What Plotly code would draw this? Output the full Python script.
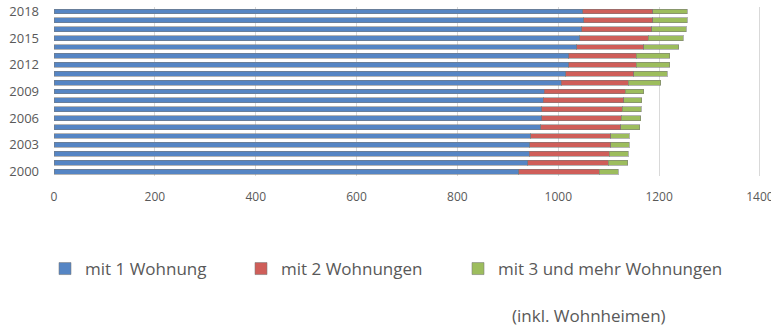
import plotly.graph_objects as go

years = list(range(2000, 2019))
# values (bottom 2000 -> top 2018)
mit_1 = [922, 939, 942, 943, 945, 965, 967, 967, 970, 972, 1006, 1015, 1021, 1021, 1037, 1043, 1047, 1051, 1049]
mit_2 = [159, 160, 159, 161, 159, 159, 158, 160, 160, 161, 133, 135, 134, 134, 133, 135, 138, 136, 138]
mit_3 = [38, 39, 38, 37, 37, 38, 39, 38, 36, 37, 64, 66, 66, 66, 69, 70, 69, 69, 69]
series_names = ["mit 1 Wohnung", "mit 2 Wohnungen", "mit 3 und mehr Wohnungen"]
series_colors = ["#5585C4", "#CF5E59", "#9DBD5D"]
ytick_years = [2000, 2003, 2006, 2009, 2012, 2015, 2018]
xtick_vals = [0, 200, 400, 600, 800, 1000, 1200, 1400]

W, H = 771, 329
L, R, T, B = 54, 8, 7, 153
pw, ph = W - L - R, H - T - B

def px_x(p):
    return (p - L) / pw

def px_y(p):
    return (H - B - p) / ph

fig = go.Figure()
legends = ["legend", "legend2", "legend3"]
for vals, name, col, lg in zip([mit_1, mit_2, mit_3], series_names, series_colors, legends):
    fig.add_trace(go.Bar(
        y=years, x=vals, orientation="h", name=name,
        marker=dict(color=col, line=dict(color="rgba(120,120,120,0.55)", width=1)),
        legend=lg, showlegend=True,
    ))

legend_font = dict(family="Open Sans", size=17, color="#595959")
leg_common = dict(orientation="h", yanchor="middle", xanchor="left",
                  font=legend_font, bgcolor="rgba(0,0,0,0)", itemwidth=30)
legend_text_x = [87, 283, 500]
fig.update_layout(
    width=W, height=H,
    showlegend=True,
    margin=dict(l=L, r=R, t=T, b=B, autoexpand=False),
    barmode="stack", bargap=0.45,
    plot_bgcolor="white", paper_bgcolor="white",
    font=dict(family="Open Sans", color="#595959"),
    legend=dict(x=px_x(legend_text_x[0] - 42), y=px_y(269), **leg_common),
    legend2=dict(x=px_x(legend_text_x[1] - 42), y=px_y(269), **leg_common),
    legend3=dict(x=px_x(legend_text_x[2] - 42), y=px_y(269), **leg_common),
    xaxis=dict(range=[0, 1406], tickvals=xtick_vals, showgrid=True, automargin=False,
               gridcolor="#D9D9D9", gridwidth=1, zeroline=False, showline=False,
               ticklabeloverflow="allow",
               tickfont=dict(size=12, color="#595959"), ticklabelstandoff=12),
    yaxis=dict(range=[1999.5, 2018.5], tickvals=ytick_years, showgrid=False, automargin=False,
               zeroline=False, showline=False,
               tickfont=dict(size=13, color="#595959"), ticklabelstandoff=14),
    annotations=[dict(text="(inkl. Wohnheimen)", x=px_x(589), y=px_y(315),
                      xref="paper", yref="paper", showarrow=False,
                      xanchor="center", yanchor="middle",
                      font=dict(family="Open Sans", size=17, color="#595959"))],
)

fig.write_html("out.html", config={"displayModeBar": False},
               post_script="document.body.style.margin='0';")
